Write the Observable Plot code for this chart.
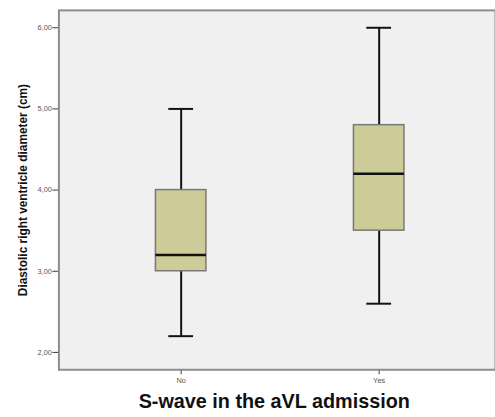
<!DOCTYPE html>
<html>
<head>
<meta charset="utf-8">
<script src="https://cdn.jsdelivr.net/npm/d3@7"></script>
<script src="https://cdn.jsdelivr.net/npm/@observablehq/plot@0.6"></script>
<style>
  html, body { margin: 0; padding: 0; background: #fff; overflow: hidden; }
  #wrap { width: 495px; height: 417px; overflow: hidden; }
</style>
</head>
<body>
<div id="wrap"></div>
<script>
const categories = ["No", "Yes"];
const mins = [2.2, 2.6];
const q1s = [3.0, 3.5];
const medians = [3.2, 4.2];
const q3s = [4.0, 4.8];
const maxs = [5.0, 6.0];
const yTicks = [2, 3, 4, 5, 6];
const yLabel = "Diastolic right ventricle diameter (cm)";
const xLabel = "S-wave in the aVL admission";

const rows = categories.map((c, i) => ({
  cat: c, min: mins[i], q1: q1s[i], med: medians[i], q3: q3s[i], max: maxs[i]
}));

const chart = Plot.plot({
  width: 500,
  height: 417,
  marginLeft: 59,
  marginRight: 0,
  marginTop: 10,
  marginBottom: 44,
  style: { fontFamily: "'Liberation Sans', Arial, sans-serif", background: "#fff" },
  x: { type: "band", domain: categories, range: [156.5, 407.5], paddingInner: 0.745, paddingOuter: 0, label: null },
  y: { domain: [1.786, 6.214], label: null },
  marks: [
    Plot.frame({ fill: "#f0f0f0" }),
    Plot.ruleX(rows, { x: "cat", y1: "min", y2: "max", stroke: "#111", strokeWidth: 2 }),
    Plot.tickY(rows, { x: "cat", y: "min", stroke: "#111", strokeWidth: 2, insetLeft: 13, insetRight: 13 }),
    Plot.tickY(rows, { x: "cat", y: "max", stroke: "#111", strokeWidth: 2, insetLeft: 13, insetRight: 13 }),
    Plot.barY(rows, { x: "cat", y1: "q1", y2: "q3", fill: "#cdcc99", stroke: "#777", strokeWidth: 1.5 }),
    Plot.tickY(rows, { x: "cat", y: "med", stroke: "#111", strokeWidth: 2.5 }),
    Plot.axisY({ ticks: yTicks, tickFormat: d => d.toFixed(2).replace(".", ","), tickSize: 6, tickPadding: 1, fontSize: 7.5, fill: "#555", stroke: "#333", label: null }),
    Plot.axisX({ tickSize: 5, tickPadding: 3, fontSize: 7.5, fill: "#555", stroke: "#333", label: null }),
    Plot.frame({ stroke: "#8c8c8c", strokeWidth: 2 }),
    Plot.text([yLabel], { text: d => d, frameAnchor: "left", textAnchor: "middle", lineAnchor: "middle", rotate: -90, dx: -36, fontSize: 12, fontWeight: "bold", fill: "#111" }),
    Plot.text([xLabel], { text: d => d, frameAnchor: "bottom", textAnchor: "middle", lineAnchor: "middle", dx: -3, dy: 32, fontSize: 20, fontWeight: "bold", fill: "#111" })
  ]
});
document.getElementById("wrap").appendChild(chart);
</script>
</body>
</html>
